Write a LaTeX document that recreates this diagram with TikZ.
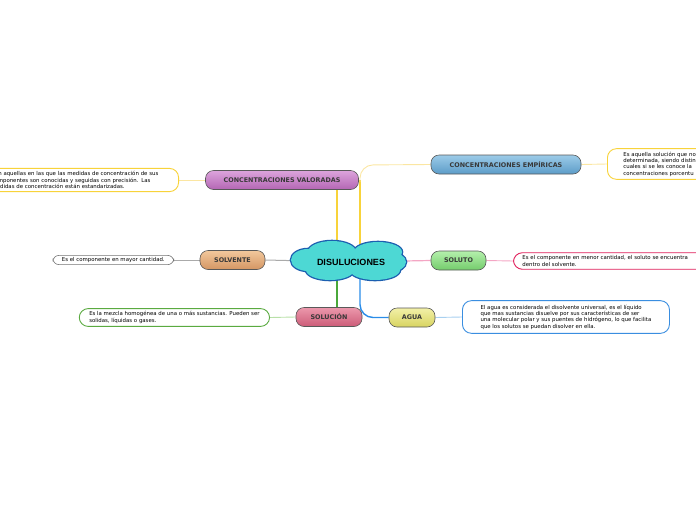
\documentclass[tikz,border=0pt]{standalone}
\usepackage{fontspec}
\setmainfont{DejaVu Sans}
\newfontfamily\cloudfont{Liberation Sans}
\usetikzlibrary{backgrounds}
\definecolor{lineyellow}{HTML}{F8D33A}
\definecolor{paleyellow}{HTML}{FBE6A2}
\definecolor{linegray}{HTML}{AAAAAA}
\definecolor{linepink}{HTML}{F4A6C4}
\definecolor{linegreen}{HTML}{4AA83A}
\definecolor{palegreen}{HTML}{B8E0A8}
\definecolor{lineblue}{HTML}{2A8CE8}
\definecolor{paleblue}{HTML}{A8D0F0}
\definecolor{cloudfill}{HTML}{4DD8D4}
\definecolor{cloudline}{HTML}{1C5FB0}
\definecolor{notepink}{HTML}{E01E5A}
\definecolor{notegreen}{HTML}{5AAA40}
\definecolor{noteblue}{HTML}{3A8EE0}
\definecolor{valtop}{HTML}{DCA4DC}\definecolor{valbot}{HTML}{B466B4}
\definecolor{emptop}{HTML}{9CCBE8}\definecolor{empbot}{HTML}{5C9CC8}
\definecolor{solvtop}{HTML}{F2C89C}\definecolor{solvbot}{HTML}{D49664}
\definecolor{solutop}{HTML}{B4F0AC}\definecolor{solubot}{HTML}{74CC6C}
\definecolor{soltop}{HTML}{EC98AC}\definecolor{solbot}{HTML}{CC5C78}
\definecolor{aguatop}{HTML}{F2F0A8}\definecolor{aguabot}{HTML}{D8D460}
\tikzset{
  tema/.style={draw=black!65, line width=0.6pt, rounded corners=8pt, inner sep=0pt,
    minimum height=19pt, text=black!78, font=\fontsize{6.4}{7}\selectfont\bfseries},
  nota/.style={draw, line width=0.9pt, rounded corners=9pt, fill=white, align=left,
    inner xsep=9pt, inner ysep=3pt, font=\fontsize{5.4}{6.4}\selectfont},
  rama/.style={line width=1.8pt},
  enlace/.style={line width=0.9pt}
}
\begin{document}
\begin{tikzpicture}[x=1pt,y=-1pt]
\useasboundingbox (0,0) rectangle (696,520);
\clip (0,0) rectangle (696,520);
% nube central: contorno de la union de elipses
\def\nube{(308,260) ellipse (17 and 11) (332,252) ellipse (24 and 11)
  (378,252) ellipse (24 and 10) (390,262) ellipse (16 and 10)
  (375,270) ellipse (25 and 10) (330,270) ellipse (24 and 10)
  (348,261) ellipse (40 and 12)}
\draw[cloudline, line width=2.6pt] \nube;
\fill[cloudfill] \nube;
\node[font=\cloudfont\fontsize{9}{10}\selectfont\bfseries] (dis) at (351,262) {DISULUCIONES};
\node[tema, minimum width=153pt, top color=valtop, bottom color=valbot]
  (val) at (282,180) {CONCENTRACIONES VALORADAS};
\node[tema, minimum width=150pt, top color=emptop, bottom color=empbot]
  (emp) at (506,164.5) {CONCENTRACIONES EMPÍRICAS};
\node[tema, minimum width=65pt, top color=solvtop, bottom color=solvbot]
  (solv) at (232.5,260) {SOLVENTE};
\node[tema, minimum width=55pt, top color=solutop, bottom color=solubot]
  (solu) at (458.5,260.5) {SOLUTO};
\node[tema, minimum width=66pt, top color=soltop, bottom color=solbot]
  (sol) at (329,317) {SOLUCIÓN};
\node[tema, minimum width=46pt, top color=aguatop, bottom color=aguabot]
  (agua) at (412,317.5) {AGUA};
\node[nota, draw=lineyellow, anchor=east, text width=178pt] (tval) at (179,180)
  {Son aquellas en las que las medidas de concentración de sus\\
   componentes son conocidas y seguidas con precisión. Las\\
   medidas de concentración están estandarizadas.};
\node[nota, draw=lineyellow, anchor=west, inner xsep=16pt, text width=120pt] (temp) at (607,164)
  {Es aquella solución que no\\ determinada, siendo distin\\ cuales si se les conoce la\\ concentraciones porcentu};
\node[nota, draw=black!55, line width=0.6pt, rounded corners=6pt, anchor=east, inner ysep=2pt] (tsolv) at (174,260)
  {Es el componente en mayor cantidad.};
\node[nota, draw=notepink, anchor=west, text width=185pt] (tsolu) at (513,261)
  {Es el componente en menor cantidad, el soluto se encuentra\\ dentro del solvente.};
\node[nota, draw=notegreen, anchor=east, inner xsep=10pt] (tsol) at (270,317.5)
  {Es la mezcla homogénea de una o más sustancias. Pueden ser\\ solidas, líquidas o gases.};
\node[nota, draw=noteblue, anchor=west, inner xsep=16pt, inner ysep=4pt, minimum width=207pt] (tagua) at (462,317)
  {El agua es considerada el disolvente universal, es el líquido\\
   que mas sustancias disuelve por sus características de ser\\
   una molecular polar y sus puentes de hidrógeno, lo que facilita\\
   que los solutos se puedan disolver en ella.};
\begin{scope}[on background layer]
\coordinate (v) at (337,255);
\coordinate (e) at (360,255);
\coordinate (s) at (337,268);
\coordinate (a) at (360,268);
\draw[rama, lineyellow] (v) -- (v |- val.south);
\draw[rama, lineyellow] (e) -- (360,180);
\draw[enlace, paleyellow, rounded corners=13pt] (360,182) -- (360,165) -- (emp.west);
\draw[rama, linegray, line width=1pt] (dis.center) -- (solv.east);
\draw[rama, linepink, line width=1.2pt] (dis.center) -- (solu.west);
\draw[rama, linegreen] (s) -- (s |- sol.north);
\draw[rama, lineblue, line width=1.4pt, rounded corners=13pt] (a) -- (360,317.5) -- (agua.west);
\draw[enlace, paleyellow] (val.west) -- (tval.east);
\draw[enlace, paleyellow] (emp.east) -- (temp.west);
\draw[enlace, linegray, line width=0.7pt] (solv.west) -- (tsolv.east);
\draw[enlace, linepink] (solu.east) -- (tsolu.west);
\draw[enlace, palegreen] (sol.west) -- (tsol.east);
\draw[enlace, paleblue] (agua.east) -- (tagua.west);
\end{scope}
\end{tikzpicture}
\end{document}
